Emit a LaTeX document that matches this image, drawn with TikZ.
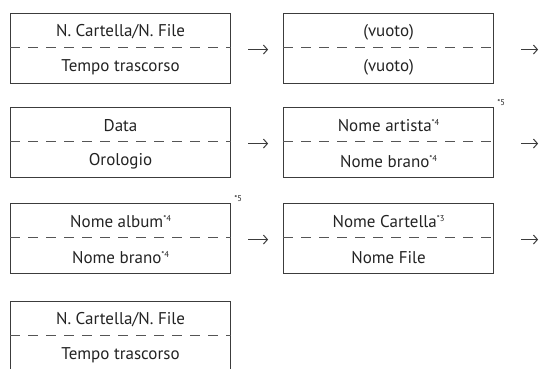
\documentclass[tikz,border=0pt]{standalone}
\usepackage{fontspec}
\setmainfont{PT Sans}
\usetikzlibrary{arrows.meta}
\definecolor{ink}{HTML}{232323}
\definecolor{frame}{HTML}{3C3C3C}
\definecolor{dashc}{HTML}{555555}
\newcommand{\fn}[1]{\raisebox{6pt}{\fontsize{8.5}{9}\selectfont *#1}}
\tikzset{
  panel/.style={draw=frame, line width=1.1pt, minimum width=#1, minimum height=70pt,
    inner sep=0pt, anchor=north west},
  divider/.style={draw=dashc, line width=1.1pt, dash pattern=on 10pt off 8pt},
  lbl/.style={text=ink, font=\fontsize{17}{19}\selectfont, inner sep=0pt},
  note/.style={text=ink, font=\fontsize{8.5}{9}\selectfont, inner sep=0pt},
  nextarrow/.style={draw=frame, line width=1pt, -{Straight Barb[length=4pt,width=9pt]}},
}
\begin{document}
\begin{tikzpicture}[x=1pt,y=-1pt]
\useasboundingbox (0,0) rectangle (540,368);
\clip (0,0) rectangle (540,368);

% panels
\node[panel=220pt] (p1) at (10,13) {};
\node[panel=210pt] (p2) at (283,13) {};
\node[panel=220pt] (p3) at (10,107) {};
\node[panel=210pt] (p4) at (283,107) {};
\node[panel=220pt] (p5) at (10,203) {};
\node[panel=210pt] (p6) at (283,203) {};
\node[panel=220pt] (p7) at (10,301) {};

% dashed dividers
\foreach \p in {p1,p2,p3,p4,p5,p6,p7}
  \draw[divider] ([yshift=1pt]\p.west) -- ([yshift=1pt]\p.east);

% labels
\foreach \p/\top/\bot in {
    p1/{N. Cartella/N. File}/{Tempo trascorso},
    p2/{(vuoto)}/{(vuoto)},
    p3/{Data}/{Orologio},
    p4/{Nome artista\fn{4}}/{Nome brano\fn{4}},
    p5/{Nome album\fn{4}}/{Nome brano\fn{4}},
    p6/{Nome Cartella\fn{3}}/{Nome File},
    p7/{N. Cartella/N. File}/{Tempo trascorso}} {
  \node[lbl] (\p t) at ([yshift=-19pt]\p.north) {\top};
  \node[lbl] (\p b) at ([yshift=17pt]\p.south) {\bot};
}

% footnote marks at panel corners
\node[note, anchor=south west] (n4) at ([xshift=3pt,yshift=1pt]p4.north east) {*5};
\node[note, anchor=south west] (n5) at ([xshift=3pt,yshift=1pt]p5.north east) {*5};

% arrows to the next display
\foreach \p in {p1,p3,p5}
  \draw[nextarrow] ([xshift=17pt,yshift=-1pt]\p.east) -- ([xshift=37pt,yshift=-1pt]\p.east);
\foreach \p in {p2,p4,p6}
  \draw[nextarrow] ([xshift=27pt,yshift=-1pt]\p.east) -- ([xshift=44pt,yshift=-1pt]\p.east);
\end{tikzpicture}
\end{document}
